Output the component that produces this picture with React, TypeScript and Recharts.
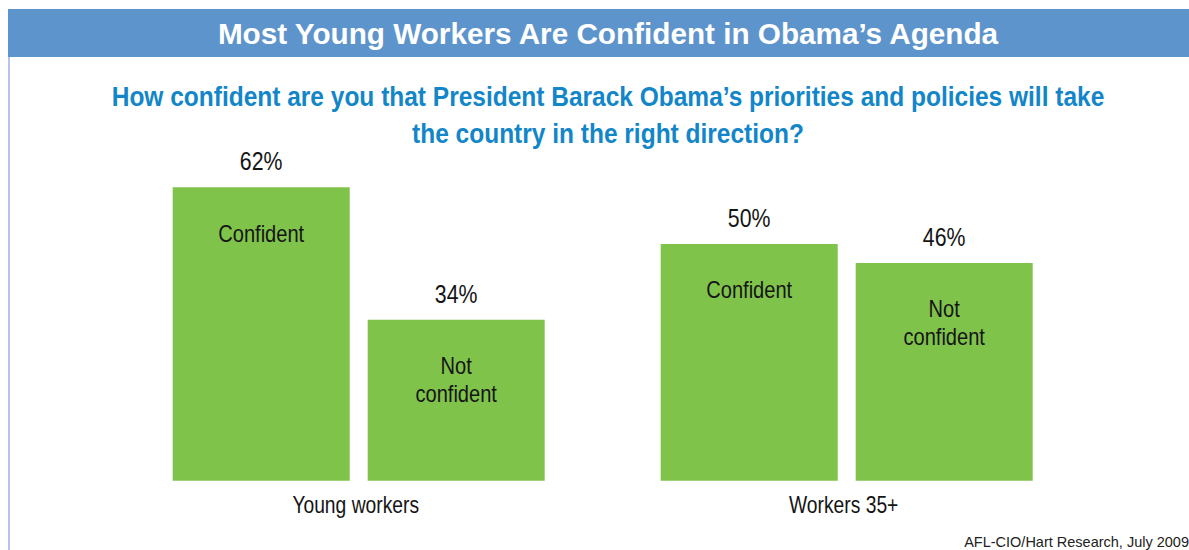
import React from "react";
import { BarChart, Bar, XAxis, YAxis, LabelList } from "recharts";

const groups = ["Young workers", "Workers 35+"];
const confident = [62, 50];
const notConfident = [34, 46];
const confidentLines = ["Confident"];
const notConfidentLines = ["Not", "confident"];

const title = "Most Young Workers Are Confident in Obama\u2019s Agenda";
const question = [
  "How confident are you that President Barack Obama\u2019s priorities and policies will take",
  "the country in the right direction?",
];
const source = "AFL-CIO/Hart Research, July 2009";

const data = groups.map((g, i) => ({
  group: g,
  confident: confident[i],
  notConfident: notConfident[i],
}));

const SANS = "'Liberation Sans', Arial, sans-serif";
const GREEN = "#80c34b";
const INK = "#151515";
const NARROW = 0.82;

// Arial-Narrow look: Liberation Sans squeezed horizontally around the anchor
function NarrowText({ x, y, size, children }: { x: number; y: number; size: number; children: React.ReactNode }) {
  return (
    <text
      transform={`translate(${x},${y}) scale(${NARROW},1)`}
      x={0}
      y={0}
      textAnchor="middle"
      fontFamily={SANS}
      fontSize={size}
      fill={INK}
    >
      {children}
    </text>
  );
}

function valueLabel(props: any) {
  const { x, y, width, value } = props;
  return (
    <NarrowText x={x + width / 2} y={y - 17} size={26}>
      {value}%
    </NarrowText>
  );
}

function innerLabel(lines: string[]) {
  return (props: any) => {
    const { x, y, width } = props;
    return (
      <g>
        {lines.map((l, i) => (
          <NarrowText key={i} x={x + width / 2} y={y + 54.5 + i * 27.5} size={24.5}>
            {l}
          </NarrowText>
        ))}
      </g>
    );
  };
}

function GroupTick(props: any) {
  const { x, y, payload } = props;
  return (
    <NarrowText x={x - 3} y={y + 24.6} size={23.5}>
      {payload.value}
    </NarrowText>
  );
}

export default function App() {
  return (
    // fixed so the page never grows a scrollbar
    <div style={{ position: "fixed", left: 8, top: 8, width: 1181, height: 542, background: "#fff" }}>
      <BarChart
        width={1181}
        height={542}
        data={data}
        margin={{ top: 141.25, right: 98.3, bottom: 29.3, left: 106.7 }}
        barSize={177}
        barGap={18}
        style={{ position: "absolute", left: 0, top: 0 }}
      >
        <XAxis dataKey="group" axisLine={false} tickLine={false} height={40} tick={<GroupTick />} />
        <YAxis hide width={0} domain={[0, 70]} />
        <Bar dataKey="confident" fill={GREEN} isAnimationActive={false}>
          <LabelList dataKey="confident" content={valueLabel} />
          <LabelList dataKey="confident" content={innerLabel(confidentLines)} />
        </Bar>
        <Bar dataKey="notConfident" fill={GREEN} isAnimationActive={false}>
          <LabelList dataKey="notConfident" content={valueLabel} />
          <LabelList dataKey="notConfident" content={innerLabel(notConfidentLines)} />
        </Bar>
      </BarChart>
      <svg
        width={1181}
        height={542}
        style={{ position: "absolute", left: 0, top: 0, pointerEvents: "none" }}
      >
        <rect x={0} y={1} width={1181} height={48} fill="#5e94cc" />
        <rect x={0} y={49} width={2} height={493} fill="#b4c4ee" />
        <text x={600} y={36} textAnchor="middle" fontFamily={SANS} fontWeight="bold" fontSize={29.7} fill="#fff">
          {title}
        </text>
        <g fontFamily={SANS} fontWeight="bold" fontSize={28} fill="#1286c8" textAnchor="middle">
          <text transform="translate(600,98) scale(0.875,1)" x={0} y={0}>
            {question[0]}
          </text>
          <text transform="translate(600,134.5) scale(0.875,1)" x={0} y={0}>
            {question[1]}
          </text>
        </g>
        <text x={1181} y={539.4} textAnchor="end" fontFamily={SANS} fontSize={14.5} fill="#222">
          {source}
        </text>
      </svg>
    </div>
  );
}
